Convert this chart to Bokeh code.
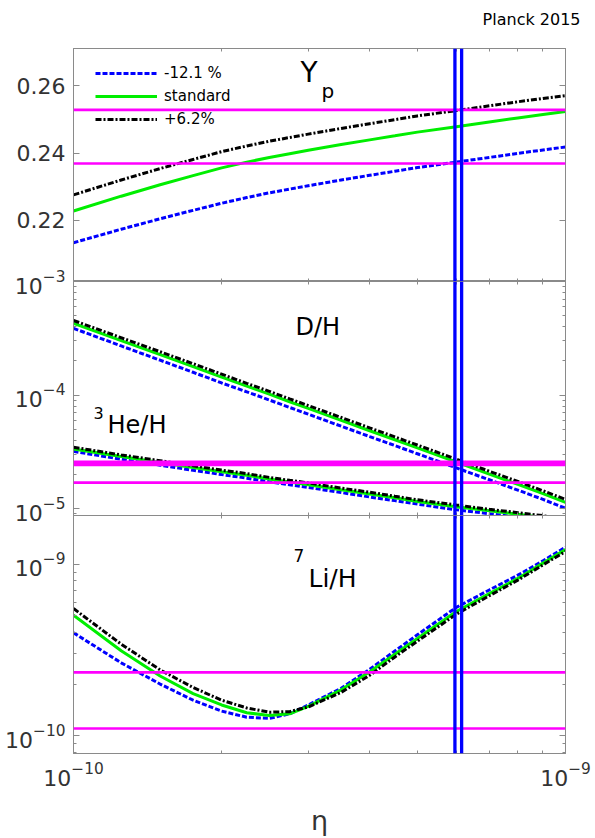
from bokeh.plotting import figure
from bokeh.models import (Range1d, FixedTicker, LogAxis, LinearAxis, Span, Label, Legend,
                          LegendItem, CustomJSTickFormatter)
from bokeh.layouts import column
from bokeh.embed import file_html
from bokeh.resources import INLINE

# ---------------- data ----------------
eta = [1.0e-10, 1.25e-10, 1.5e-10, 1.75e-10, 2.0e-10, 2.25e-10, 2.5e-10, 2.75e-10, 3.0e-10,
       3.5e-10, 4.0e-10, 4.5e-10, 5.0e-10, 6.0e-10, 7.0e-10, 8.0e-10, 9.0e-10, 1.0e-9]

yp_lo = [0.2134, 0.2174, 0.2205, 0.2230, 0.2251, 0.2268, 0.2282, 0.2293, 0.2303,
         0.2320, 0.2334, 0.2346, 0.2357, 0.2373, 0.2387, 0.2399, 0.2409, 0.2418]
yp_std = [0.2228, 0.2272, 0.2306, 0.2333, 0.2356, 0.2373, 0.2387, 0.2398, 0.2408,
          0.2425, 0.2439, 0.2451, 0.2462, 0.2478, 0.2492, 0.2504, 0.2514, 0.2523]
yp_hi = [0.2276, 0.2320, 0.2354, 0.2381, 0.2404, 0.2421, 0.2435, 0.2446, 0.2456,
         0.2473, 0.2487, 0.2499, 0.2510, 0.2526, 0.2540, 0.2552, 0.2562, 0.2570]

dh_lo = [3.87e-4, 2.71e-4, 2.03e-4, 1.59e-4, 1.28e-4, 1.07e-4, 9.07e-5, 7.79e-5, 6.80e-5,
         5.33e-5, 4.32e-5, 3.60e-5, 3.05e-5, 2.29e-5, 1.80e-5, 1.46e-5, 1.21e-5, 1.01e-5]
dh_std = [4.28e-4, 3.02e-4, 2.27e-4, 1.78e-4, 1.44e-4, 1.20e-4, 1.02e-4, 8.75e-5, 7.64e-5,
          6.00e-5, 4.86e-5, 4.05e-5, 3.43e-5, 2.58e-5, 2.02e-5, 1.64e-5, 1.36e-5, 1.14e-5]
dh_hi = [4.54e-4, 3.20e-4, 2.41e-4, 1.89e-4, 1.53e-4, 1.27e-4, 1.08e-4, 9.28e-5, 8.10e-5,
         6.36e-5, 5.15e-5, 4.29e-5, 3.64e-5, 2.73e-5, 2.14e-5, 1.74e-5, 1.44e-5, 1.21e-5]

he_lo = [3.20e-5, 2.73e-5, 2.42e-5, 2.18e-5, 2.00e-5, 1.86e-5, 1.73e-5, 1.63e-5, 1.54e-5,
         1.39e-5, 1.27e-5, 1.18e-5, 1.10e-5, 9.8e-6, 9.05e-6, 8.45e-6, 7.95e-6, 7.5e-6]
he_std = [3.36e-5, 2.88e-5, 2.56e-5, 2.31e-5, 2.12e-5, 1.97e-5, 1.83e-5, 1.72e-5, 1.63e-5,
          1.47e-5, 1.35e-5, 1.25e-5, 1.16e-5, 1.04e-5, 9.6e-6, 8.95e-6, 8.4e-6, 7.95e-6]
he_hi = [3.48e-5, 2.98e-5, 2.65e-5, 2.39e-5, 2.19e-5, 2.04e-5, 1.89e-5, 1.78e-5, 1.69e-5,
         1.52e-5, 1.40e-5, 1.29e-5, 1.20e-5, 1.08e-5, 9.9e-6, 9.25e-6, 8.7e-6, 8.2e-6]

li_lo = [3.99e-10, 2.66e-10, 2.00e-10, 1.61e-10, 1.39e-10, 1.28e-10, 1.26e-10, 1.34e-10, 1.51e-10,
         1.89e-10, 2.44e-10, 3.12e-10, 3.88e-10, 5.61e-10, 7.09e-10, 8.65e-10, 1.05e-9, 1.26e-9]
li_std = [5.05e-10, 3.13e-10, 2.23e-10, 1.76e-10, 1.51e-10, 1.36e-10, 1.31e-10, 1.34e-10, 1.48e-10,
          1.85e-10, 2.36e-10, 2.99e-10, 3.69e-10, 5.31e-10, 6.75e-10, 8.28e-10, 1.017e-9, 1.22e-9]
li_hi = [5.52e-10, 3.42e-10, 2.42e-10, 1.91e-10, 1.61e-10, 1.45e-10, 1.37e-10, 1.38e-10, 1.47e-10,
         1.79e-10, 2.25e-10, 2.88e-10, 3.56e-10, 5.12e-10, 6.56e-10, 8.09e-10, 9.93e-10, 1.19e-9]

series_labels = ["-12.1 %", "standard", "+6.2%"]

yp_obs = [0.2528, 0.2369]
dh_obs = 2.51e-5
he_obs = 1.70e-5
li_obs = [2.34e-10, 1.10e-10]
eta_planck = [5.96e-10, 6.15e-10]

x_major = [1e-10, 1e-9]
x_minor = [2e-10, 3e-10, 4e-10, 5e-10, 6e-10, 7e-10, 8e-10, 9e-10]

# ---------------- style ----------------
FONT = "DejaVu Sans"
AX_COL = "#8a8a8a"
LAB_COL = "#333333"
W = 595
LEFT, RIGHT = 73, 30
STYLES = [dict(color="#0000ff", line_dash="5 2"),
          dict(color="#00ee00", line_dash="solid"),
          dict(color="#000000", line_dash="6 2 2 2")]


def style_axis(ax, show_labels, size="22px"):
    ax.axis_line_color = AX_COL
    ax.major_tick_line_color = AX_COL
    ax.minor_tick_line_color = AX_COL
    ax.major_tick_in = 6
    ax.major_tick_out = 0
    ax.minor_tick_in = 3
    ax.minor_tick_out = 0
    ax.major_label_text_font = FONT
    ax.major_label_text_color = LAB_COL
    ax.major_label_text_font_style = "normal"
    if show_labels:
        ax.major_label_text_font_size = size
        ax.major_label_standoff = 8
    else:
        ax.formatter = CustomJSTickFormatter(code="return ''")
        ax.major_label_text_font_size = "1px"
        ax.major_label_standoff = 0


def make_fig(height, y_range, y_type, top, bottom, margin_top, title=None):
    p = figure(width=W, height=height, x_axis_type="log", y_axis_type=y_type,
               x_range=Range1d(1e-10, 1e-9), y_range=y_range,
               x_axis_location=None, y_axis_location=None,
               toolbar_location=None, output_backend="svg", title=title,
               min_border_left=LEFT, min_border_right=RIGHT,
               min_border_top=top, min_border_bottom=bottom,
               margin=(margin_top, 0, 0, 0))
    p.grid.visible = False
    p.outline_line_color = AX_COL
    p.border_fill_color = None
    p.background_fill_color = "white"
    return p


def add_x_axes(p, labels_below):
    for loc in ["below", "above"]:
        ax = LogAxis(ticker=FixedTicker(ticks=x_major, minor_ticks=x_minor))
        show = labels_below and loc == "below"
        style_axis(ax, show, size="22px")
        if show:
            ax.major_label_standoff = 8
            ax.axis_label = "η"
            ax.axis_label_text_font = FONT
            ax.axis_label_text_font_size = "27px"
            ax.axis_label_text_font_style = "normal"
            ax.axis_label_text_color = LAB_COL
            ax.axis_label_standoff = 16
        p.add_layout(ax, loc)


def add_y_axes(p, cls, major, minor):
    for loc in ["left", "right"]:
        ax = cls(ticker=FixedTicker(ticks=major, minor_ticks=minor))
        style_axis(ax, loc == "left")
        p.add_layout(ax, loc)


def add_curves(p, ys):
    rs = []
    for y, st in zip(ys, STYLES):
        rs.append(p.line(eta, y, line_width=3, line_color=st["color"], line_dash=st["line_dash"]))
    return rs


def add_planck(p):
    for e in eta_planck:
        p.add_layout(Span(location=e, dimension="height", line_color="#0000ff", line_width=3.3))


def text(p, s, x, y, size, color="black", align="left"):
    p.add_layout(Label(x=x, y=y, x_units="screen", y_units="screen", text=s,
                       text_font=FONT, text_font_size=size, text_color=color,
                       text_align=align, text_baseline="alphabetic"))


# ---------------- top panel: Yp ----------------
TOP_EXTRA = 16
p1 = make_fig(281 + TOP_EXTRA, Range1d(0.2019, 0.2710), "linear", 48 + TOP_EXTRA, 0, -TOP_EXTRA,
              title="Planck 2015")
p1.title.align = "right"
p1.title.offset = -15
p1.title.standoff = 40
p1.title.text_font = FONT
p1.title.text_font_size = "16px"
p1.title.text_font_style = "normal"
p1.title.text_color = "black"
add_x_axes(p1, False)
add_y_axes(p1, LinearAxis, [0.22, 0.24, 0.26], [])
for v in yp_obs:
    p1.add_layout(Span(location=v, dimension="width", line_color="#ff00ff", line_width=2.7))
rs = add_curves(p1, [yp_lo, yp_std, yp_hi])
add_planck(p1)
leg = Legend(items=[LegendItem(label=l, renderers=[r]) for l, r in zip(series_labels, rs)],
             location=(22, 152), border_line_color=None, background_fill_alpha=0,
             label_text_font=FONT, label_text_font_size="15px", label_text_color="black",
             glyph_width=62, glyph_height=20, label_height=20, label_standoff=7,
             spacing=3, padding=0, margin=0)
p1.add_layout(leg)
text(p1, "Y", 227, 209, "28px")
text(p1, "p", 248, 191, "20px")

# ---------------- middle panel: D/H and 3He/H ----------------
dh_minor = [9e-6] + [k * 1e-5 for k in range(2, 10)] + [k * 1e-4 for k in range(2, 10)]
p2 = make_fig(15 + 234 + 14, Range1d(8.73e-6, 1.0e-3), "log", 15, 14, -15)
add_x_axes(p2, False)
add_y_axes(p2, LogAxis, [1e-5, 1e-4, 1e-3], dh_minor)
p2.add_layout(Span(location=dh_obs, dimension="width", line_color="#ff00ff", line_width=5.7))
p2.add_layout(Span(location=he_obs, dimension="width", line_color="#ff00ff", line_width=2.7))
add_curves(p2, [dh_lo, dh_std, dh_hi])
add_curves(p2, [he_lo, he_std, he_hi])
add_planck(p2)
text(p2, "D/H", 222, 189, "24px")
text(p2, "3", 20, 103, "16px")
text(p2, "He/H", 34, 91, "24px")

# ---------------- bottom panel: 7Li/H ----------------
li_minor = [8e-11, 9e-11] + [k * 1e-10 for k in range(2, 10)]
p3 = make_fig(838 - 515, Range1d(7.86e-11, 1.93e-9), "log", 0, 84, -14)
add_x_axes(p3, True)
add_y_axes(p3, LogAxis, [1e-10, 1e-9], li_minor)
for v in li_obs:
    p3.add_layout(Span(location=v, dimension="width", line_color="#ff00ff", line_width=2.7))
add_curves(p3, [li_lo, li_std, li_hi])
add_planck(p3)
text(p3, "7", 220, 198, "17px")
text(p3, "Li/H", 235, 175, "25px")

layout = column(p1, p2, p3, spacing=0)
open("out.html", "w").write(file_html(layout, INLINE))
